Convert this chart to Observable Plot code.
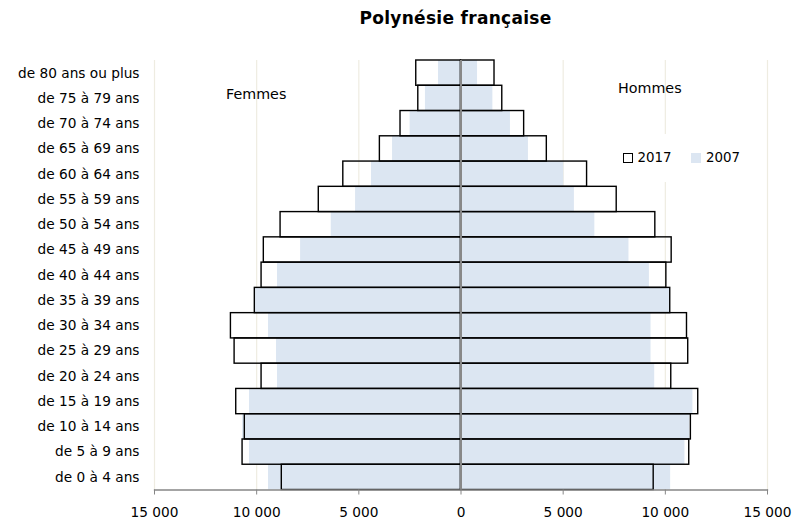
<!DOCTYPE html>
<html><head><meta charset="utf-8">
<script src="https://cdn.jsdelivr.net/npm/d3@7"></script>
<script src="https://cdn.jsdelivr.net/npm/@observablehq/plot@0.6"></script>
<style>
body{margin:0;background:#fff;font-family:"DejaVu Sans",Verdana,sans-serif;}
#wrap{position:relative;width:802px;height:526px;overflow:hidden;}
#wrap svg{position:absolute;left:0;top:0;}
.ov{position:absolute;white-space:nowrap;line-height:1;color:#000;}
</style></head>
<body>
<div id="wrap"></div>
<script>
const ages = ["de 0 à 4 ans","de 5 à 9 ans","de 10 à 14 ans","de 15 à 19 ans","de 20 à 24 ans","de 25 à 29 ans","de 30 à 34 ans","de 35 à 39 ans","de 40 à 44 ans","de 45 à 49 ans","de 50 à 54 ans","de 55 à 59 ans","de 60 à 64 ans","de 65 à 69 ans","de 70 à 74 ans","de 75 à 79 ans","de 80 ans ou plus"];
const femmes2017 = [8770,10690,10580,11000,9760,11080,11260,10090,9760,9650,8830,6960,5760,3970,2960,2090,2190];
const femmes2007 = [9420,10350,10690,10350,8980,9030,9420,10050,8980,7850,6350,5160,4380,3350,2490,1740,1100];
const hommes2017 = [9430,11170,11250,11610,10290,11120,11060,10240,10050,10310,9510,7620,6170,4200,3090,2020,1640];
const hommes2007 = [10260,10960,11200,11350,9480,9300,9300,10200,9220,8220,6550,5550,5030,3300,2420,1560,810];
const xTicks = [-15000,-10000,-5000,0,5000,10000,15000];
const gridTicks = [-15000,-10000,-5000,5000,10000,15000];
const titleText = "Polynésie française";
const leftLabel = "Femmes", rightLabel = "Hommes";
const seriesNames = ["2017","2007"];

const rows = [];
ages.forEach((a,i)=>{
  rows.push({age:a, year:"2007", x1:-femmes2007[i], x2:0});
  rows.push({age:a, year:"2007", x1:0, x2:hommes2007[i]});
  rows.push({age:a, year:"2017", x1:-femmes2017[i], x2:0});
  rows.push({age:a, year:"2017", x1:0, x2:hommes2017[i]});
});
const fmt = d => d3.format(",")(Math.abs(d)).replace(/,/g, "\u00a0");

const chart = Plot.plot({
  width: 802, height: 526,
  marginLeft: 154, marginRight: 35, marginTop: 60, marginBottom: 36.5,
  style: {fontFamily: "'DejaVu Sans', Verdana, sans-serif", fontSize: "13.7px", color: "#000", background: "transparent"},
  x: {domain: [-15000, 15000], ticks: xTicks, tickFormat: fmt, tickSize: 5, tickPadding: 12, label: null},
  y: {domain: ages.slice().reverse(), padding: 0, round: false, tickSize: 0, tickPadding: 15, label: null},
  marks: [
    Plot.ruleX(gridTicks, {stroke: "#eeece1", strokeWidth: 1.2}),
    Plot.barX(rows.filter(d=>d.year==="2007"), {y: "age", x1: "x1", x2: "x2", fill: "#dce6f2", insetTop: 0, insetBottom: 0}),
    Plot.barX(rows.filter(d=>d.year==="2017"), {y: "age", x1: "x1", x2: "x2", fill: "none", stroke: "#000", strokeWidth: 1.4, insetTop: 0, insetBottom: 0}),
    Plot.ruleX([0], {stroke: "#888888", strokeWidth: 2}),
    Plot.frame({anchor: "bottom", stroke: "#868686", strokeWidth: 1.3}),
    Plot.axisX({ticks: xTicks, tickFormat: fmt, tickSize: 5, tickPadding: 12, stroke: "#868686", anchor: "bottom", fill: "#000"}),
    Plot.axisY({tickSize: 0, tickPadding: 15, anchor: "left", fill: "#000"})
  ]
});
const wrap = document.getElementById("wrap");
wrap.appendChild(chart);

function ov(text, css){ const d=document.createElement("div"); d.className="ov"; d.textContent=text; Object.assign(d.style, css); wrap.appendChild(d); return d; }
ov(titleText, {left:"455.5px", top:"10px", transform:"translateX(-50%)", fontWeight:"bold", fontSize:"17px", letterSpacing:"0.3px"});
ov(leftLabel, {left:"226px", top:"87px", fontSize:"14.3px"});
ov(rightLabel, {left:"618px", top:"81px", fontSize:"14.3px"});
const bg = document.createElement("div"); Object.assign(bg.style,{position:"absolute",left:"618px",top:"134px",width:"128px",height:"48px",background:"#fff"}); wrap.appendChild(bg);
const sq1 = document.createElement("div"); Object.assign(sq1.style,{position:"absolute",left:"623px",top:"153px",width:"8px",height:"8px",border:"1px solid #000",background:"#fff"}); wrap.appendChild(sq1);
ov(seriesNames[0], {left:"637.5px", top:"151px", fontSize:"13.4px"});
const sq2 = document.createElement("div"); Object.assign(sq2.style,{position:"absolute",left:"691px",top:"153px",width:"10px",height:"10px",background:"#dce6f2"}); wrap.appendChild(sq2);
ov(seriesNames[1], {left:"706px", top:"151px", fontSize:"13.4px"});
</script>
</body></html>
